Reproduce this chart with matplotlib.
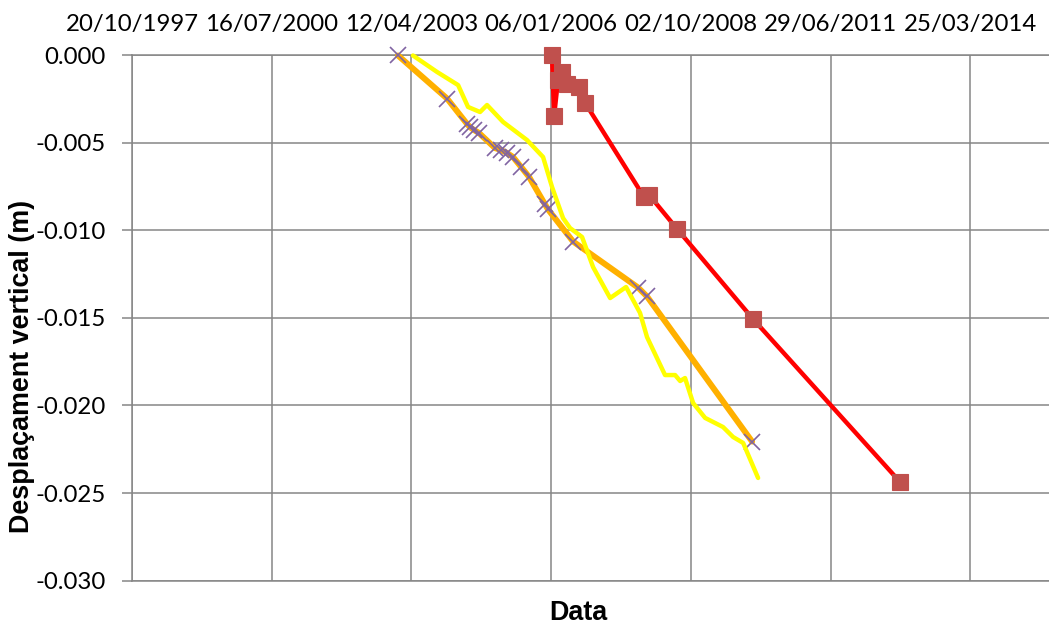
import matplotlib
matplotlib.use("Agg")
import matplotlib.pyplot as plt
import pandas as pd

# ---- data ----
orange_dates = ["2003-01-06", "2003-12-23", "2004-05-14", "2004-06-04", "2004-07-03",
                "2004-08-08", "2004-11-30", "2005-01-12", "2005-02-24", "2005-04-08",
                "2005-06-05", "2005-08-01", "2005-11-23", "2005-12-15", "2006-06-12",
                "2007-09-20", "2007-11-23", "2009-12-14"]
orange_values = [0.0, -0.00246, -0.00391, -0.00409, -0.00426,
                 -0.00443, -0.00529, -0.00540, -0.00557, -0.00580,
                 -0.00637, -0.00694, -0.00851, -0.00880, -0.01063,
                 -0.01326, -0.01377, -0.02206]

yellow_dates = ["2003-04-23", "2003-10-12", "2004-03-11", "2004-05-21", "2004-08-15",
                "2004-10-04", "2005-01-27", "2005-07-17", "2005-11-09", "2006-01-12",
                "2006-04-01", "2006-05-21", "2006-08-15", "2006-11-02", "2007-03-04",
                "2007-06-26", "2007-10-04", "2007-11-23", "2008-03-31", "2008-06-11",
                "2008-07-17", "2008-08-21", "2008-10-18", "2009-01-12", "2009-05-20",
                "2009-07-31", "2009-10-11", "2010-01-26"]
yellow_values = [0.0, -0.00094, -0.00169, -0.00294, -0.00323,
                 -0.00283, -0.00380, -0.00483, -0.00580, -0.00751,
                 -0.00929, -0.00986, -0.01037, -0.01209, -0.01386,
                 -0.01323, -0.01471, -0.01609, -0.01826, -0.01826,
                 -0.01860, -0.01843, -0.01986, -0.02071, -0.02123,
                 -0.02180, -0.02214, -0.02414]

red_dates = ["2006-01-12", "2006-01-27", "2006-02-24", "2006-03-25", "2006-04-30",
             "2006-07-25", "2006-09-06", "2007-11-02", "2007-12-08", "2008-06-25",
             "2009-12-21", "2012-11-07"]
red_values = [0.0, -0.00346, -0.00140, -0.00094, -0.00163,
              -0.00180, -0.00271, -0.00809, -0.00797, -0.00991,
              -0.01506, -0.02437]

x_tick_labels = ["20/10/1997", "16/07/2000", "12/04/2003", "06/01/2006",
                 "02/10/2008", "29/06/2011", "25/03/2014"]
y_ticks = [0.000, -0.005, -0.010, -0.015, -0.020, -0.025, -0.030]

x_title = "Data"
y_title = "Desplaçament vertical (m)"

# ---- figure ----
plt.rcParams['axes.unicode_minus'] = False
W, H = 1049, 630
fig = plt.figure(figsize=(W / 100, H / 100), dpi=100)
left_px, right_px, top_px, bottom_px = 132, 1049, 55.5, 580.5
ax = fig.add_axes([left_px / W, 1 - bottom_px / H,
                   (right_px - left_px) / W, (bottom_px - top_px) / H])

grid_col = "#868686"

od = pd.to_datetime(orange_dates)
yd = pd.to_datetime(yellow_dates)
rd = pd.to_datetime(red_dates)

ax.plot(od, orange_values, color="#FFB000", lw=4.3, solid_capstyle="round",
        solid_joinstyle="round", zorder=3, clip_on=False)
ax.plot(od, orange_values, ls="none", marker="x", ms=11.5, mew=1.2,
        color="#8064A2", zorder=4, clip_on=False)
ax.plot(yd, yellow_values, color="#FFFF00", lw=3.2, solid_joinstyle="round",
        solid_capstyle="round", zorder=5, clip_on=False)
ax.plot(rd, red_values, color="#FF0000", lw=3.2, solid_joinstyle="round", zorder=6,
        marker="s", ms=12, mfc="#C0504D", mec="#C0504D", mew=0.8, clip_on=False)

# x axis (dates on top)
xt = pd.to_datetime(x_tick_labels, format="%d/%m/%Y")
ax.set_xlim(pd.Timestamp("1997-10-20"), pd.Timestamp("2015-10-09"))
ax.set_xticks(xt)
ax.set_xticklabels(x_tick_labels)
ax.xaxis.tick_top()
ax.tick_params(axis="x", length=0, pad=15, labelsize=17.3)
for t in ax.get_xticklabels():
    t.set_fontfamily("Lato")

# y axis
ax.set_ylim(-0.030, 0.0)
ax.set_yticks(y_ticks)
ax.set_yticklabels(["%.3f" % v for v in y_ticks])
ax.tick_params(axis="y", length=7, width=1.1, color=grid_col, pad=12, labelsize=17.3)
for t in ax.get_yticklabels():
    t.set_fontfamily("Lato")

ax.grid(True, color=grid_col, lw=1.1)
ax.set_axisbelow(True)
for s in ["right", "bottom"]:
    ax.spines[s].set_visible(False)
for s in ["left", "top"]:
    ax.spines[s].set_color(grid_col)
    ax.spines[s].set_linewidth(1.1)
ax.axhline(-0.030, color=grid_col, lw=1.1, zorder=1, clip_on=False)

fig.text(22 / W, 1 - 366 / H, y_title, rotation=90, ha="center", va="center",
         fontsize=19.4, fontweight="bold", family="Liberation Sans")
fig.text(578 / W, 1 - 613 / H, x_title, ha="center", va="center",
         fontsize=19.4, fontweight="bold", family="Liberation Sans")

fig.savefig("out.png", dpi=100)
